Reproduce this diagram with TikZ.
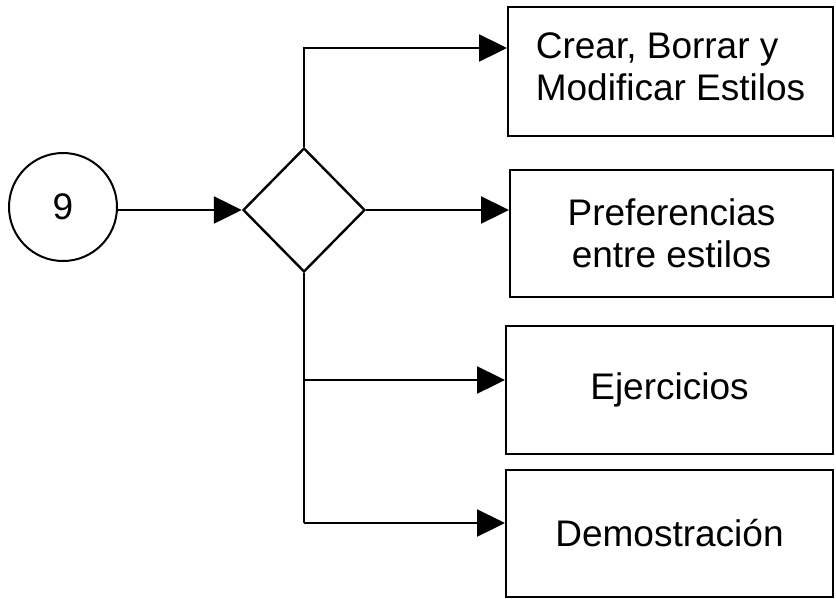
\documentclass[tikz,border=0pt]{standalone}
\usepackage{fontspec}
\setmainfont{Liberation Sans}
\usetikzlibrary{arrows.meta,shapes.geometric}
\begin{document}
\begin{tikzpicture}[x=1pt,y=-1pt,
  every node/.style={font=\fontsize{37}{42}\selectfont},
  stepbox/.style={draw,line width=2pt,rectangle,inner sep=0pt},
  link/.style={line width=2.4pt},
  arr/.style={link,-{Triangle[length=28pt,width=27pt]}}]
  \useasboundingbox[fill=white] (0,0) rectangle (836,598);

  % start marker and decision
  \node[draw,circle,line width=2pt,minimum size=108pt,inner sep=0pt] (start) at (63,207) {9};
  \node[draw,diamond,line width=2.4pt,minimum width=122pt,minimum height=124pt,inner sep=0pt] (dec) at (304,210) {};

  % option boxes
  \node[stepbox,minimum width=325pt,minimum height=129pt,align=left,text depth=10pt] (b1) at (670.5,71.5)
    {Crear, Borrar y\\Modificar Estilos};
  \node[stepbox,minimum width=323pt,minimum height=127pt,align=center] (b2) at (671.5,233.5)
    {Preferencias\\entre estilos};
  \node[stepbox,minimum width=327pt,minimum height=128pt] (b3) at (669.5,390) {Ejercicios};
  \node[stepbox,minimum width=327pt,minimum height=127pt] (b4) at (669.5,533.5) {Demostración};

  % branch points
  \coordinate (j1) at (304,48);
  \coordinate (j3) at (304,380);
  \coordinate (j4) at (304,523);

  % connectors
  \draw[arr] (start.east |- dec.west) -- (dec.west);
  \draw[arr] (dec.north) -- (j1) -- (b1.west |- j1);
  \draw[arr] (dec.east) -- (b2.west |- dec.east);
  \draw[link] (dec.south) -- (j4);
  \draw[arr] (j3) -- (b3.west |- j3);
  \draw[arr] (j4) -- (b4.west |- j4);
\end{tikzpicture}
\end{document}
